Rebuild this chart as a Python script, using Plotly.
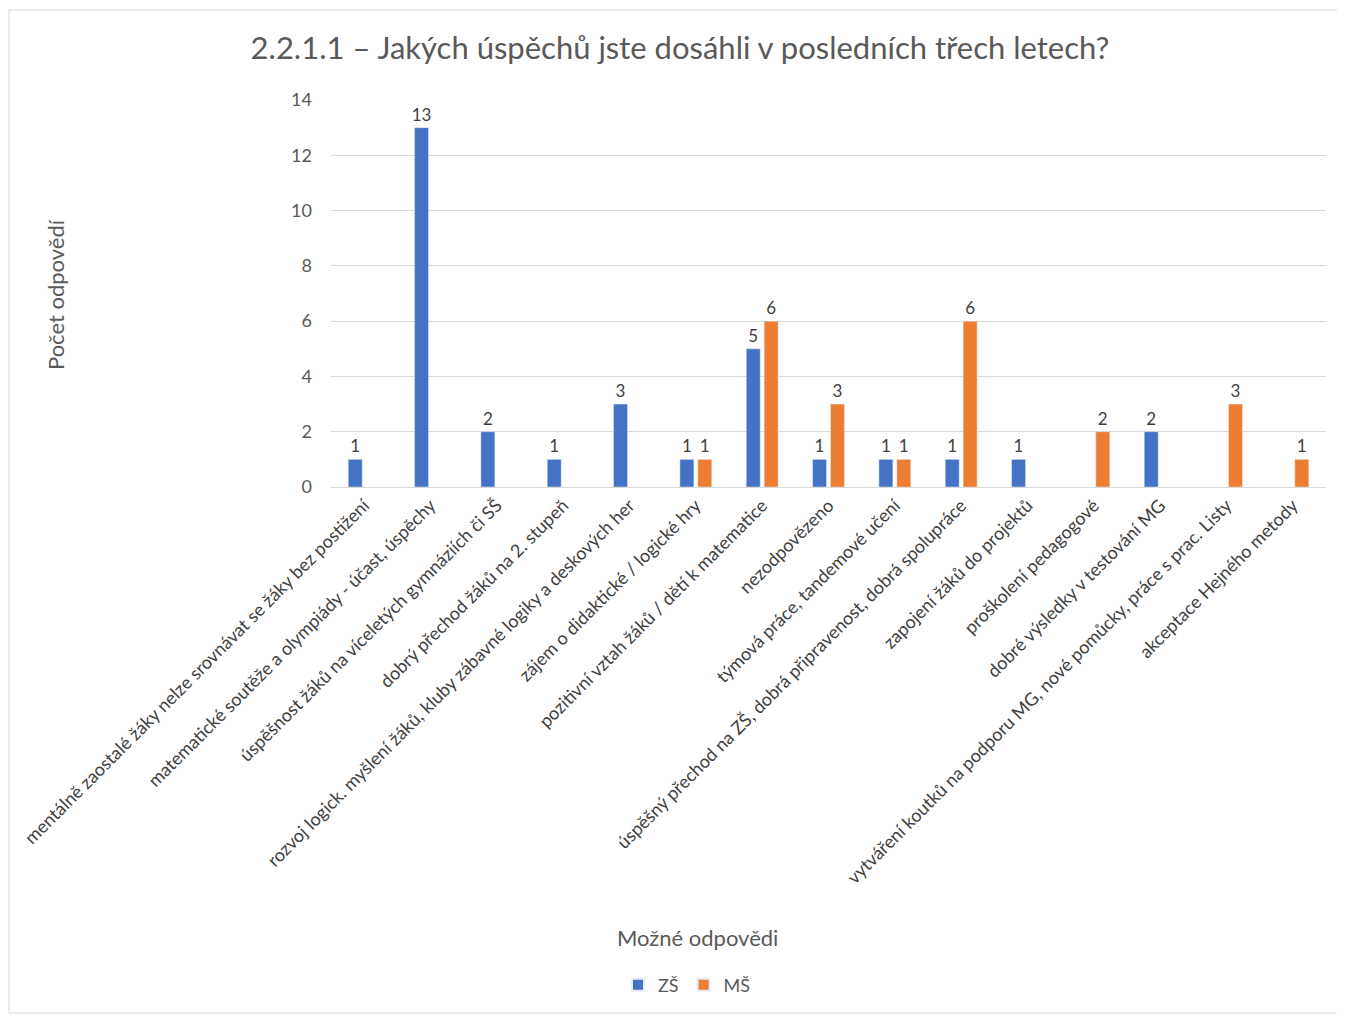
import plotly.graph_objects as go

categories = [
    "mentálně zaostalé žáky nelze srovnávat se žáky bez postižení",
    "matematické soutěže a olympiády - účast, úspěchy",
    "úspěšnost žáků na víceletých gymnáziích či SŠ",
    "dobrý přechod žáků na 2. stupeň",
    "rozvoj logick. myšlení žáků, kluby zábavné logiky a deskových her",
    "zájem o didaktické / logické hry",
    "pozitivní vztah žáků / dětí k matematice",
    "nezodpovězeno",
    "týmová práce, tandemové učení",
    "úspěšný přechod na ZŠ, dobrá připravenost, dobrá spolupráce",
    "zapojení žáků do projektů",
    "proškolení pedagogové",
    "dobré výsledky v testování MG",
    "vytváření koutků na podporu MG, nové pomůcky, práce s prac. Listy",
    "akceptace Hejného metody",
]
zs_values = [1, 13, 2, 1, 3, 1, 5, 1, 1, 1, 1, None, 2, None, None]
ms_values = [None, None, None, None, None, 1, 6, 3, 1, 6, None, 2, None, 3, 1]

FONT = "Lato"
OFF = 8  # browser default body margin
W, H = 1345 - OFF, 1014 - OFF
L, T = 331 - OFF, 100 - OFF
R = W - (1326 - OFF)
B = H - (487 - OFF)
pw = W - L - R
ph = H - T - B

def px_x(x):
    return (x - OFF - L) / pw

def px_y(y):
    return (H - B - (y - OFF)) / ph

fig = go.Figure()
fig.add_trace(go.Bar(
    name="ZŠ", x=categories, y=zs_values, marker_color="#4472C4",
    text=zs_values, textposition="outside", cliponaxis=False,
    constraintext="none",
    textfont=dict(size=17, color="#404040", family=FONT),
))
fig.add_trace(go.Bar(
    name="MŠ", x=categories, y=ms_values, marker_color="#ED7D31",
    text=ms_values, textposition="outside", cliponaxis=False,
    constraintext="none",
    textfont=dict(size=17, color="#404040", family=FONT),
))

fig.update_layout(
    width=W, height=H,
    margin=dict(l=L, r=R, t=T, b=B, autoexpand=False),
    paper_bgcolor="white", plot_bgcolor="white",
    barmode="group", bargap=0.46, bargroupgap=0.22,
    font=dict(family=FONT, color="#595959"),
    title=dict(
        text="2.2.1.1 – Jakých úspěchů jste dosáhli v posledních třech letech?",
        x=(680 - OFF) / W, xref="container", xanchor="center",
        y=1 - (48 - OFF) / H, yref="container", yanchor="middle",
        font=dict(size=31, color="#595959", family=FONT),
    ),
    xaxis=dict(
        tickangle=-45, tickfont=dict(size=18, color="#404040", family=FONT),
        showline=True, linecolor="#d9d9d9", linewidth=1,
        ticks="", automargin=False, showgrid=False,
    ),
    yaxis=dict(
        range=[0, 14], dtick=2, tickfont=dict(size=18, color="#595959", family=FONT),
        showgrid=True, gridcolor="#d9d9d9", gridwidth=1,
        zeroline=False, automargin=False, ticks="", ticklabelstandoff=18,
    ),
    legend=dict(
        orientation="h", xref="container", yref="container",
        x=(687 - OFF) / W, xanchor="center", y=(1014 - 985) / H, yanchor="middle",
        font=dict(size=18, color="#595959", family=FONT),
        itemwidth=30, itemsizing="constant",
    ),
    showlegend=True,
    annotations=[
        dict(text="Počet odpovědí", xref="paper", yref="paper",
             x=px_x(55), y=px_y(295), xanchor="center", yanchor="middle",
             showarrow=False, textangle=-90,
             font=dict(size=22, color="#595959", family=FONT)),
        dict(text="Možné odpovědi", xref="paper", yref="paper",
             x=px_x(697), y=px_y(937), xanchor="center", yanchor="middle",
             showarrow=False, font=dict(size=22, color="#595959", family=FONT)),
    ],
    shapes=[
        dict(type="rect", xref="paper", yref="paper",
             x0=px_x(9), x1=px_x(1344),
             y0=px_y(1013), y1=px_y(10),
             line=dict(color="#d9d9d9", width=1), fillcolor="rgba(0,0,0,0)",
             layer="below"),
    ],
)

fig.write_html("out.html")
